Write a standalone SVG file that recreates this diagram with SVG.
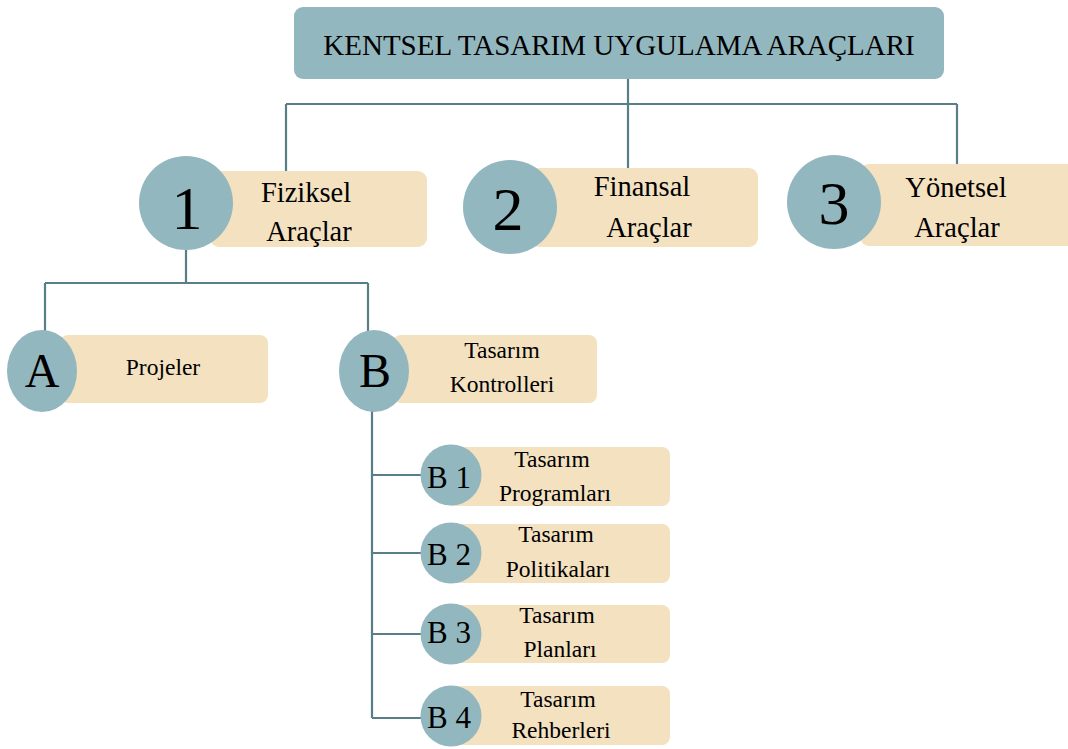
<svg xmlns="http://www.w3.org/2000/svg" width="1068" height="749" viewBox="0 0 1068 749">
<style>
.c{fill:#93b7bf}
.b{fill:#f4e1c0}
.ln{stroke:#587f88;stroke-width:2.2;fill:none}
text{font-family:"Liberation Serif","Times New Roman",serif;fill:#000;text-anchor:middle}
.t{font-size:28.5px}
.s{font-size:23.5px}
.n{font-size:62px}
.m{font-size:48px}
.k{font-size:31px}
</style>
<rect width="1068" height="749" fill="#fff"/>
<g id="connectors">
<path class="ln" d="M628 79V168M286 104H957M286 104V172M957 104V165"/>
<path class="ln" d="M186 250V283M45 283H368M45 283V331M368 283V333"/>
<path class="ln" d="M372 410V718M372 475H421M372 553H421M372 634H421M372 718H421"/>
</g>
<g id="title">
<rect x="294" y="7" width="650" height="72" rx="9" class="c"/>
<text x="619" y="55" style="font-size:29px">KENTSEL TASARIM UYGULAMA ARAÇLARI</text>
</g>
<g id="n1">
<rect x="210" y="171" width="217" height="76" rx="9" class="b"/>
<circle cx="186" cy="203" r="47" class="c"/>
<text x="187" y="229" class="n">1</text>
<text x="306" y="202" class="t">Fiziksel</text>
<text x="309" y="241" class="t">Araçlar</text>
</g>
<g id="n2">
<rect x="530" y="168" width="228" height="79" rx="9" class="b"/>
<circle cx="510" cy="207" r="47" class="c"/>
<text x="508" y="230" class="n">2</text>
<text x="642" y="196" class="t">Finansal</text>
<text x="649" y="237" class="t">Araçlar</text>
</g>
<g id="n3">
<rect x="860" y="164" width="220" height="82" rx="9" class="b"/>
<circle cx="834" cy="202" r="47" class="c"/>
<text x="834" y="224" class="n">3</text>
<text x="956" y="197" class="t">Yönetsel</text>
<text x="957" y="237" class="t">Araçlar</text>
</g>
<g id="nA">
<rect x="60" y="335" width="208" height="68" rx="8" class="b"/>
<ellipse cx="42" cy="371" rx="35" ry="41" class="c"/>
<text x="42" y="387" class="m">A</text>
<text x="163" y="375" class="s">Projeler</text>
</g>
<g id="nB">
<rect x="393" y="335" width="204" height="68" rx="8" class="b"/>
<ellipse cx="374" cy="371" rx="35" ry="41" class="c"/>
<text x="375" y="387" class="m">B</text>
<text x="502" y="358" class="s">Tasarım</text>
<text x="502" y="392" class="s">Kontrolleri</text>
</g>
<g id="nB1">
<rect x="445" y="447" width="225" height="59" rx="8" class="b"/>
<circle cx="451" cy="475" r="30.5" class="c"/>
<text x="449" y="488" class="k">B 1</text>
<text x="552" y="467" class="s">Tasarım</text>
<text x="555" y="501" class="s">Programları</text>
</g>
<g id="nB2">
<rect x="445" y="524" width="225" height="59" rx="8" class="b"/>
<circle cx="451" cy="553" r="30.5" class="c"/>
<text x="449" y="565" class="k">B 2</text>
<text x="556" y="542" class="s">Tasarım</text>
<text x="558" y="577" class="s">Politikaları</text>
</g>
<g id="nB3">
<rect x="445" y="605" width="225" height="58" rx="8" class="b"/>
<circle cx="451" cy="634" r="30.5" class="c"/>
<text x="449" y="643" class="k">B 3</text>
<text x="557" y="623" class="s">Tasarım</text>
<text x="560" y="657" class="s">Planları</text>
</g>
<g id="nB4">
<rect x="445" y="686" width="225" height="59" rx="8" class="b"/>
<circle cx="451" cy="716" r="30.5" class="c"/>
<text x="449" y="728" class="k">B 4</text>
<text x="558" y="707" class="s">Tasarım</text>
<text x="561" y="738" class="s">Rehberleri</text>
</g>
</svg>
